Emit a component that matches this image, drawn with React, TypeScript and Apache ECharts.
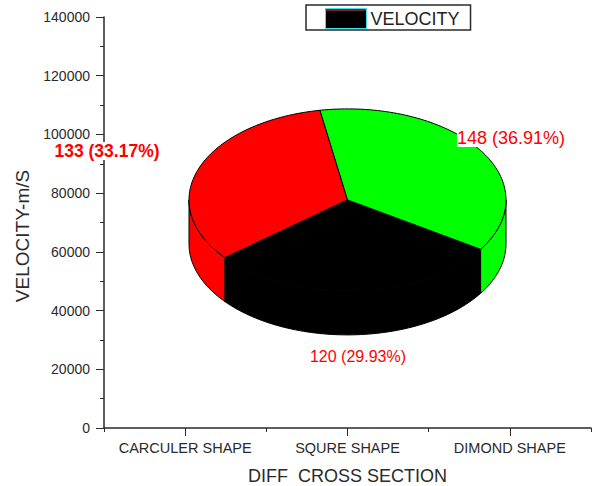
import React, { useEffect, useRef } from "react";
import * as echarts from "echarts";

const categories = ["CARCULER SHAPE", "SQURE SHAPE", "DIMOND SHAPE"];
const values = [133, 120, 148];
const sliceColors = ["#ff0000", "#000000", "#00ff00"];
const yTicksMax = 140000;
const yInterval = 20000;
const seriesName = "VELOCITY";

const FONT = "'Liberation Sans', Arial, sans-serif";
const INK = "#2a2a2a";
const LABEL_SPEC = [
  { x: 107, y: 151, size: 17.5, weight: "bold", bg: "#ffffff" },
  { x: 358, y: 356, size: 16, weight: "normal", bg: "transparent" },
  { x: 511, y: 138, size: 18, weight: "normal", bg: "#ffffff" },
];

const RX = 158.5;
const RY = 91;
const DEPTH = 44;
const START = -100;

export default function App() {
  const ref = useRef<HTMLDivElement>(null);
  useEffect(() => {
    const chart = echarts.init(ref.current!, undefined, { renderer: "svg" });
    const total = values.reduce((a, b) => a + b, 0);
    const rangeOf = (i: number) => {
      const before = values.slice(0, i).reduce((a, b) => a + b, 0);
      return [START - (before / total) * 360, START - ((before + values[i]) / total) * 360];
    };
    const arc = (cx: number, cy: number, a0: number, a1: number) => {
      const n = Math.max(2, Math.ceil(Math.abs(a1 - a0) / 1.5));
      const pts: number[][] = [];
      for (let k = 0; k <= n; k++) {
        const t = ((a0 + ((a1 - a0) * k) / n) * Math.PI) / 180;
        pts.push([cx + RX * Math.cos(t), cy + RY * Math.sin(t)]);
      }
      return pts;
    };
    const renderItem = (params: any, api: any) => {
      const i = params.dataIndex;
      const [cx, cy] = api.coord([1, 77700]);
      const [a0, a1] = rangeOf(i);
      const children: any[] = [];
      for (const shift of [-360, 0, 360]) {
        const hi = Math.min(a0 + shift, 180);
        const lo = Math.max(a1 + shift, 0);
        if (hi > lo) {
          const top = arc(cx, cy, hi, lo);
          const bottom = arc(cx, cy + DEPTH, lo, hi);
          children.push({
            type: "polygon",
            z2: 1,
            shape: { points: top.concat(bottom) },
            style: { fill: sliceColors[i], stroke: "#000", lineWidth: 1 },
          });
        }
      }
      children.push({
        type: "polygon",
        z2: 2,
        shape: { points: [[cx, cy]].concat(arc(cx, cy, a0, a1)) },
        style: { fill: sliceColors[i], stroke: "#000", lineWidth: 1 },
      });
      const spec = LABEL_SPEC[i];
      children.push({
        type: "text",
        z2: 5,
        x: spec.x,
        y: spec.y,
        style: {
          text: `${values[i]} (${((values[i] / total) * 100).toFixed(2)}%)`,
          fill: "#ff0000",
          font: `${spec.weight} ${spec.size}px ${FONT}`,
          align: "center",
          verticalAlign: "middle",
          backgroundColor: spec.bg,
        },
      });
      return { type: "group", children };
    };
    const axisLine = { show: true, lineStyle: { color: INK, width: 1.5 } };
    chart.setOption({
      animation: false,
      backgroundColor: "#ffffff",
      grid: { left: 104, right: 4, top: 17, bottom: 58, containLabel: false, outerBoundsMode: "none" },
      legend: {
        left: 306,
        top: 5,
        padding: [3, 11, 1, 19],
        itemGap: 0,
        itemWidth: 41,
        itemHeight: 20,
        borderColor: INK,
        borderWidth: 1.5,
        backgroundColor: "#fff",
        data: [
          {
            name: seriesName,
            icon: "rect",
            itemStyle: { color: "#000", borderColor: "#40e0e8", borderWidth: 1 },
          },
        ],
        textStyle: { fontFamily: FONT, fontSize: 18, color: "#222", padding: [0, 0, 0, -1] },
      },
      xAxis: [
        {
          type: "category",
          data: categories,
          position: "bottom",
          axisLine,
          axisTick: { show: true, length: 4, lineStyle: { color: INK } },
          axisLabel: { fontFamily: FONT, fontSize: 14.5, color: INK, margin: 12, interval: 0 },
          name: "DIFF  CROSS SECTION",
          nameLocation: "middle",
          nameGap: 39,
          nameTextStyle: { fontFamily: FONT, fontSize: 18, color: INK },
        },
        {
          type: "category",
          data: categories,
          position: "bottom",
          axisLine: { show: false },
          axisTick: { show: true, alignWithLabel: true, length: 8, lineStyle: { color: INK } },
          axisLabel: { show: false },
        },
      ],
      yAxis: {
        type: "value",
        min: 0,
        max: yTicksMax,
        interval: yInterval,
        axisLine,
        axisTick: { show: true, length: 8, lineStyle: { color: INK } },
        minorTick: { show: true, splitNumber: 2, length: 4, lineStyle: { color: INK } },
        splitLine: { show: false },
        axisLabel: { fontFamily: FONT, fontSize: 14, color: INK, margin: 14, formatter: (v: number) => String(v) },
        name: "VELOCITY-m/S",
        nameLocation: "middle",
        nameGap: 72,
        nameTextStyle: { fontFamily: FONT, fontSize: 19, color: INK, padding: [0, 27, 0, 0] },
      },
      graphic: [
        { type: "line", z: 20, shape: { x1: 325, y1: 10, x2: 366, y2: 10 }, style: { stroke: "#ff4040", lineWidth: 1 } },
      ],
      series: [
        {
          type: "custom",
          name: seriesName,
          coordinateSystem: "cartesian2d",
          clip: false,
          renderItem,
          encode: { x: 0, y: 1 },
          data: values.map((v, i) => [i, v]),
          itemStyle: { color: "#000" },
        },
      ],
    });
    return () => chart.dispose();
  }, []);
  return <div ref={ref} style={{ position: "absolute", left: 0, top: 0, width: 595, height: 486 }} />;
}
